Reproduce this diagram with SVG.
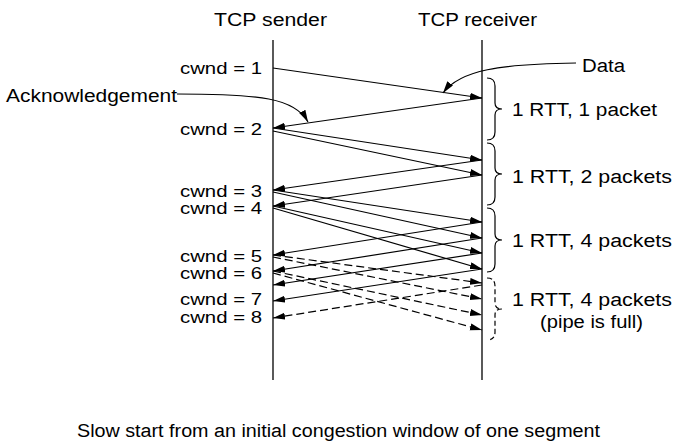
<svg xmlns="http://www.w3.org/2000/svg" width="676" height="446" viewBox="0 0 676 446">
<style>
text{font-family:"Liberation Sans",Arial,sans-serif;font-size:18px;fill:#000}
.cw{font-size:17px}
.ln{stroke:#000;stroke-width:1.3;fill:none}
.ar{stroke:#000;stroke-width:1.2;fill:none;marker-end:url(#ah)}
.da{stroke-dasharray:8 4}
.br{stroke:#000;stroke-width:1.2;fill:none}
</style>
<defs>
<marker id="ah" markerUnits="userSpaceOnUse" markerWidth="13" markerHeight="8" refX="12" refY="3.5" orient="auto">
<path d="M0,0 L12,3.5 L0,7 z" fill="#000"/>
</marker>
</defs>
<rect width="676" height="446" fill="#fff"/>
<g id="sender">
<line class="ln" x1="273" y1="40" x2="273" y2="380"/>
<text x="214" y="26" textLength="113" lengthAdjust="spacingAndGlyphs">TCP sender</text>
</g>
<g id="receiver">
<line class="ln" x1="482" y1="40" x2="482" y2="380"/>
<text x="418" y="26" textLength="119" lengthAdjust="spacingAndGlyphs">TCP receiver</text>
</g>
<g id="cwnd-labels" class="cw">
<text class="cw" x="180" y="74" textLength="82" lengthAdjust="spacingAndGlyphs">cwnd = 1</text>
<text class="cw" x="180" y="135" textLength="82" lengthAdjust="spacingAndGlyphs">cwnd = 2</text>
<text class="cw" x="180" y="197" textLength="82" lengthAdjust="spacingAndGlyphs">cwnd = 3</text>
<text class="cw" x="180" y="214" textLength="82" lengthAdjust="spacingAndGlyphs">cwnd = 4</text>
<text class="cw" x="180" y="262" textLength="82" lengthAdjust="spacingAndGlyphs">cwnd = 5</text>
<text class="cw" x="180" y="279" textLength="82" lengthAdjust="spacingAndGlyphs">cwnd = 6</text>
<text class="cw" x="180" y="305" textLength="82" lengthAdjust="spacingAndGlyphs">cwnd = 7</text>
<text class="cw" x="180" y="323" textLength="82" lengthAdjust="spacingAndGlyphs">cwnd = 8</text>
</g>
<g id="callouts">
<text x="6" y="102" textLength="171" lengthAdjust="spacingAndGlyphs">Acknowledgement</text>
<text x="582" y="72" textLength="43" lengthAdjust="spacingAndGlyphs">Data</text>
</g>
<g id="rtt-labels">
<text x="512" y="116" textLength="145" lengthAdjust="spacingAndGlyphs">1 RTT, 1 packet</text>
<text x="512" y="183" textLength="160" lengthAdjust="spacingAndGlyphs">1 RTT, 2 packets</text>
<text x="512" y="247" textLength="160" lengthAdjust="spacingAndGlyphs">1 RTT, 4 packets</text>
<text x="512" y="306" textLength="160" lengthAdjust="spacingAndGlyphs">1 RTT, 4 packets</text>
<text x="540" y="328" textLength="103" lengthAdjust="spacingAndGlyphs">(pipe is full)</text>
</g>
<g id="braces">
<path class="br" d="M487 78 Q495 78 495 86 L495 103 Q495 109 502 109 Q495 109 495 115 L495 132 Q495 140 487 140"/>
<path class="br" d="M487 143 Q495 143 495 151 L495 168 Q495 174 502 174 Q495 174 495 180 L495 197 Q495 205 487 205"/>
<path class="br" d="M487 208 Q495 208 495 216 L495 234 Q495 240 502 240 Q495 240 495 246 L495 264 Q495 272 487 272"/>
<path class="br" stroke-dasharray="5 3" d="M487 278 Q495 278 495 286 L495 303 Q495 309 502 309 Q495 309 495 315 L495 332 Q495 340 487 340"/>
</g>
<g id="connectors">
<path class="ar" d="M177 94 C260 94 295 98 308 122"/>
<path class="ar" d="M576 63 C500 64 460 70 443 93"/>
<line class="ar" x1="273" y1="68" x2="482" y2="98"/>
<line class="ar" x1="482" y1="98" x2="273" y2="128"/>
<line class="ar" x1="273" y1="128" x2="482" y2="160"/>
<line class="ar" x1="273" y1="131" x2="482" y2="175"/>
<line class="ar" x1="482" y1="160" x2="273" y2="190"/>
<line class="ar" x1="482" y1="175" x2="273" y2="206"/>
<line class="ar" x1="273" y1="190" x2="482" y2="222"/>
<line class="ar" x1="273" y1="192" x2="482" y2="238"/>
<line class="ar" x1="273" y1="206" x2="482" y2="253"/>
<line class="ar" x1="273" y1="208" x2="482" y2="269"/>
<line class="ar" x1="482" y1="222" x2="273" y2="255"/>
<line class="ar" x1="482" y1="238" x2="273" y2="271"/>
<line class="ar" x1="482" y1="253" x2="273" y2="285"/>
<line class="ar" x1="482" y1="269" x2="273" y2="301"/>
<line class="ar da" x1="482" y1="285" x2="273" y2="318"/>
<line class="ar da" x1="273" y1="255" x2="482" y2="283"/>
<line class="ar da" x1="273" y1="257" x2="482" y2="299"/>
<line class="ar da" x1="273" y1="271" x2="482" y2="315"/>
<line class="ar da" x1="273" y1="273" x2="482" y2="330"/>
</g>
<text id="caption" x="77" y="437" font-size="18" textLength="523" lengthAdjust="spacingAndGlyphs">Slow start from an initial congestion window of one segment</text>
</svg>
